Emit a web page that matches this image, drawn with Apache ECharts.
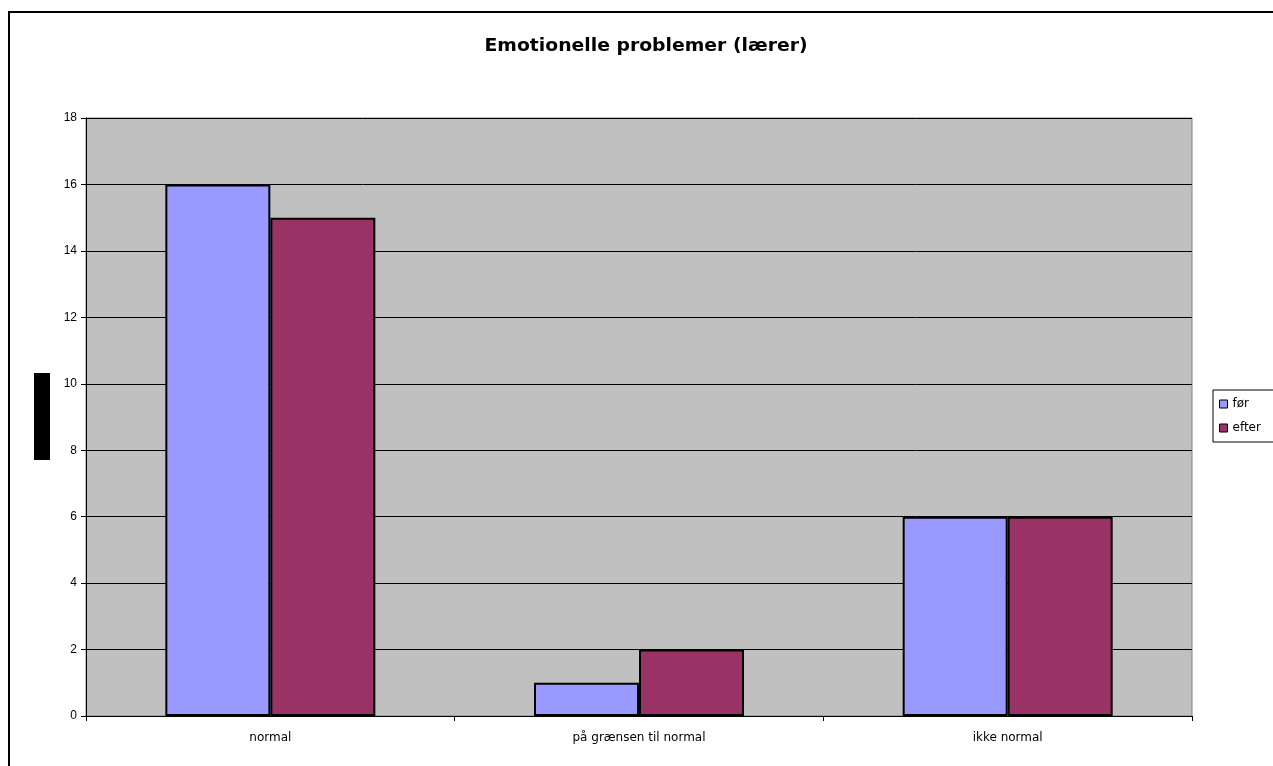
<!DOCTYPE html>
<html><head><meta charset="utf-8">
<script src="https://cdn.jsdelivr.net/npm/echarts@6/dist/echarts.min.js"></script>
<style>html,body{margin:0;padding:0;background:#fff}#c{width:1273px;height:766px}</style>
</head><body><div id="c"></div>
<script>
const categories = ["normal", "på grænsen til normal", "ikke normal"];
const forValues = [16, 1, 6];
const efterValues = [15, 2, 6];
const seriesNames = ["før", "efter"];
const titleText = "Emotionelle problemer (lærer)";

const titleFont = 'bold 17px "DejaVu Sans"';
const cv = document.createElement('canvas').getContext('2d');
cv.font = titleFont;
const titleW = cv.measureText(titleText).width;
const titleScale = 323 / titleW;

const chart = echarts.init(document.getElementById('c'));
chart.setOption({
  animation: false,
  backgroundColor: '#ffffff',
  graphic: [
    {type: 'rect', shape: {x: 9, y: 12, width: 1300, height: 800}, style: {fill: 'none', stroke: '#000', lineWidth: 2}, z: 100},
    {type: 'rect', shape: {x: 34, y: 373, width: 16, height: 87}, style: {fill: '#000'}},
    {type: 'text', x: 646, y: 47, scaleX: titleScale, scaleY: 1,
     style: {text: titleText, font: titleFont, fill: '#000', align: 'center', verticalAlign: 'middle'}}
  ],
  legend: {
    orient: 'vertical', left: 1213, top: 390,
    data: seriesNames,
    itemWidth: 8, itemHeight: 8, itemGap: 12,
    padding: [8, 30, 8, 6],
    borderColor: '#000', borderWidth: 1, backgroundColor: '#fff',
    icon: 'rect',
    itemStyle: {borderColor: '#000', borderWidth: 1},
    textStyle: {fontFamily: 'DejaVu Sans', fontSize: 12, color: '#000'}
  },
  grid: {left: 86, right: 81, top: 118, bottom: 50, show: true, backgroundColor: '#c0c0c0', borderColor: '#808080', borderWidth: 1},
  xAxis: {
    type: 'category', data: categories,
    axisLine: {lineStyle: {color: '#000', width: 1}},
    axisTick: {show: true, length: 5, lineStyle: {color: '#000'}},
    axisLabel: {fontFamily: 'DejaVu Sans', fontSize: 12, color: '#000', margin: 16}
  },
  yAxis: {
    type: 'value', min: 0, max: 18, interval: 2,
    axisLine: {show: true, lineStyle: {color: '#000'}},
    axisTick: {show: true, length: 5, lineStyle: {color: '#000'}},
    axisLabel: {fontFamily: 'Liberation Sans, Arial', fontSize: 12, color: '#000', margin: 9},
    splitLine: {lineStyle: {color: '#000', width: 1}}
  },
  series: [
    {name: seriesNames[0], type: 'bar', data: forValues, barWidth: 105, barGap: '0%',
     itemStyle: {color: '#9999ff', borderColor: '#000', borderWidth: 2}},
    {name: seriesNames[1], type: 'bar', data: efterValues, barWidth: 105,
     itemStyle: {color: '#993366', borderColor: '#000', borderWidth: 2}}
  ]
});
</script></body></html>
